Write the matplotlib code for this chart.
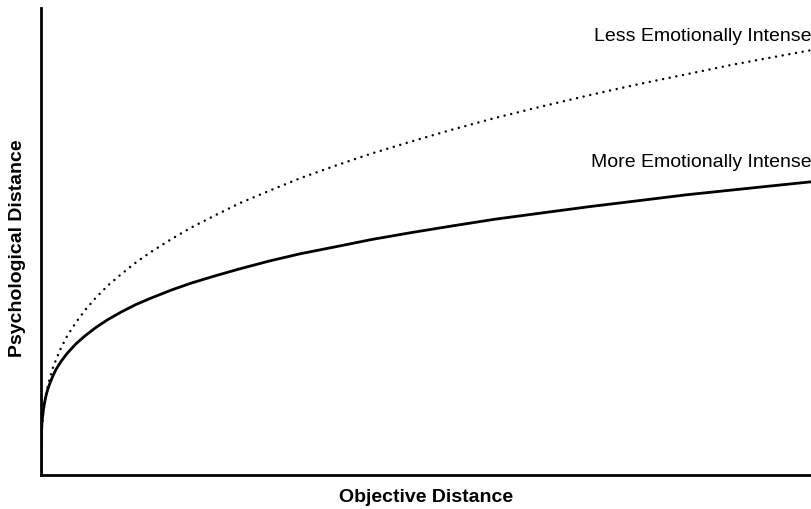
import matplotlib.pyplot as plt

plt.rcParams['font.family'] = ['Liberation Sans', 'DejaVu Sans']

# objective distance (arbitrary units, 0-100)
objective = [0, 0.065, 0.13, 0.195, 0.26, 0.39, 0.52, 0.71, 0.91, 1.17,
             1.56, 1.95, 2.59, 3.37, 4.54, 5.71, 7.13, 8.69, 10.4, 12.3,
             14.3, 16.9, 19.5, 22.7, 25.9, 29.8, 33.7, 38.3, 42.8, 48.0,
             53.2, 59.0, 64.9, 71.3, 77.8, 83.7, 89.5, 94.7, 100]
# psychological distance for each curve (arbitrary units, 0-100)
more_intense = [0, 9.3, 11.2, 12.4, 13.3, 14.8, 16.0, 17.4, 18.5, 19.7,
                21.3, 22.6, 24.3, 26.0, 28.1, 29.8, 31.6, 33.3, 34.9, 36.5,
                37.9, 39.6, 41.1, 42.7, 44.2, 45.9, 47.4, 48.9, 50.4, 51.9,
                53.3, 54.8, 56.1, 57.5, 58.8, 60.0, 61.0, 61.9, 62.8]
less_intense = [0, 8.0, 10.1, 11.5, 12.7, 14.5, 16.0, 17.7, 19.2, 20.9,
                23.0, 24.7, 27.2, 29.7, 32.7, 35.3, 38.0, 40.6, 43.0, 45.5,
                47.8, 50.5, 53.0, 55.7, 58.3, 61.0, 63.6, 66.3, 68.8, 71.4,
                73.9, 76.5, 78.9, 81.4, 83.8, 85.8, 87.8, 89.4, 91.0]

fig = plt.figure(figsize=(8.12, 5.10), dpi=100)
ax = fig.add_axes([41 / 812, 34 / 510, 771 / 812, 467 / 510])

ax.plot(objective, more_intense, color='black', lw=2.0, solid_capstyle='butt',
        solid_joinstyle='round')
ax.plot(objective, less_intense, color='black', lw=1.8,
        linestyle=(0, (0.01, 2.7)), dash_capstyle='round')

ax.set_xlim(0, 100)
ax.set_ylim(0, 100)
ax.set_xticks([])
ax.set_yticks([])
for side in ['top', 'right']:
    ax.spines[side].set_visible(False)
for side in ['left', 'bottom']:
    ax.spines[side].set_linewidth(2.0)

ax.text(100, 94.2, 'Less Emotionally Intense', ha='right', va='center', fontsize=14)
ax.text(100, 67.2, 'More Emotionally Intense', ha='right', va='center', fontsize=14)

ax.set_xlabel('Objective Distance', fontsize=14, fontweight='bold')
ax.set_ylabel('Psychological Distance', fontsize=14, fontweight='bold')
ax.xaxis.set_label_coords(0.5, -0.045)
ax.yaxis.set_label_coords(-0.03, 0.488)
ax.xaxis.label.set_va('center')
ax.yaxis.label.set_va('center')

fig.savefig('out.png', dpi=100)
